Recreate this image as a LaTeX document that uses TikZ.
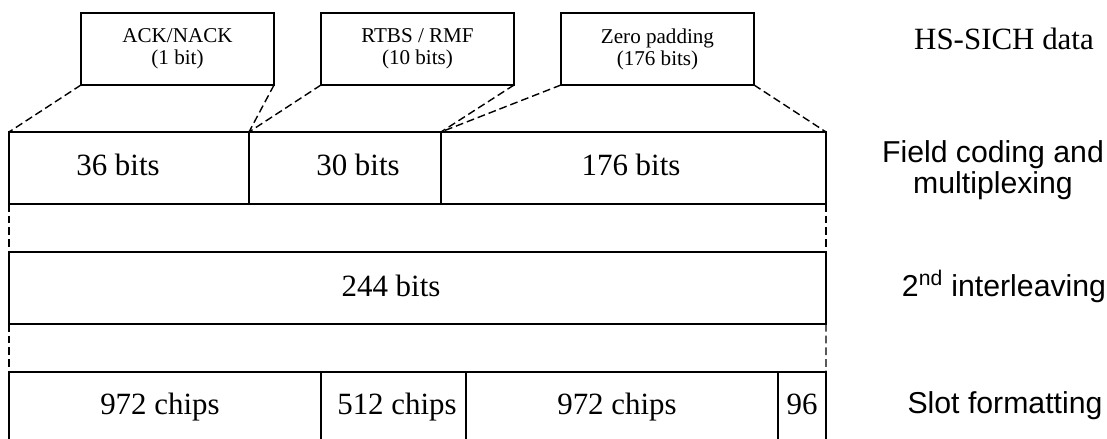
\documentclass[tikz,border=0pt]{standalone}
\usepackage{fontspec}
\setmainfont{Liberation Serif}
\setsansfont{Liberation Sans}
\usetikzlibrary{positioning}
% one field of a row: name, left, right, top (picture units)
\newcommand\field[4]{%
\node[fieldbox,minimum width={(#3-#2)*0.025cm}] (#1) at ({(#2+#3)/2},{#4+36}) {};
}
\newcommand\stage[3]{%
\node[stagetext] (#1) at (#2) {#3};
}

\begin{document}
\begin{tikzpicture}[x=0.025cm,y=-0.025cm,
	every node/.style={outer sep=0pt},
	fieldbox/.style={draw,line width=1pt,minimum height=1.8cm,inner sep=0pt},
	databox/.style={draw,line width=1pt,minimum width=4.825cm,minimum height=1.8cm,
		align=center,font=\fontsize{15}{15.6}\selectfont},
	bits/.style={anchor=base,font=\fontsize{22}{24}\selectfont},
	stagetext/.style={align=center,font=\sffamily\fontsize{21.5}{22}\selectfont},
	link/.style={line width=1pt,dash pattern=on 5.5pt off 2.8pt}]
	%% some definitions
	\def\rowA{132} % field coding row
	\def\rowB{252} % interleaving row
	\def\rowC{372} % slot row
	
	\clip (0,0) rectangle (1107,439);
	
	% HS-SICH data fields
	\node[databox] (ack) at (177.5,49) {ACK/NACK\\(1 bit)};
	\node[databox] (rtbs) at (417.5,49) {RTBS / RMF\\(10 bits)};
	\node[databox] (zero) at (657.5,49) {Zero padding\\(176 bits)};
	
	% field coding and multiplexing
	\field{c36}{9}{249}{\rowA}
	\field{c30}{249}{441}{\rowA}
	\field{c176}{441}{826}{\rowA}
	\node[bits] (t36) at (118,176) {36 bits};
	\node[bits] (t30) at (358,176) {30 bits};
	\node[bits] (t176) at (631,176) {176 bits};
	
	% 2nd interleaving
	\field{c244}{9}{826}{\rowB}
	\node[bits] (t244) at (391,296) {244 bits};
	
	% slot formatting
	\field{s1}{9}{321}{\rowC}
	\field{s2}{321}{466}{\rowC}
	\field{s3}{466}{778}{\rowC}
	\field{s4}{778}{826}{\rowC}
	\node[bits] (ts1) at (160,414) {972 chips};
	\node[bits] (ts2) at (397,414) {512 chips};
	\node[bits] (ts3) at (617,414) {972 chips};
	\node[bits] (ts4) at (802,414) {96};
	
	% dashed links
	\draw[link] (ack.south west) -- (c36.north west);
	\draw[link] (ack.south east) -- (c30.north west);
	\draw[link] (rtbs.south west) -- (c30.north west);
	\draw[link] (rtbs.south east) -- (c176.north west);
	\draw[link] (zero.south west) -- (c176.north west);
	\draw[link] (zero.south east) -- (c176.north east);
	\draw[link] (c36.south west) -- (c244.north west);
	\draw[link] (c176.south east) -- (c244.north east);
	\draw[link] (c244.south west) -- (s1.north west);
	\draw[link] (c244.south east) -- (s4.north east);
	
	% stages
	\node[anchor=base,font=\fontsize{22}{24}\selectfont] (hs) at (1004,50) {HS-SICH data};
	\stage{fc}{993,170}{Field coding and\\multiplexing}
	\node[stagetext,anchor=base] (il) at (1004,296) {2\textsuperscript{nd} interleaving};
	\node[stagetext,anchor=base] (sf) at (1005,413) {Slot formatting};
	
\end{tikzpicture}
\end{document}
